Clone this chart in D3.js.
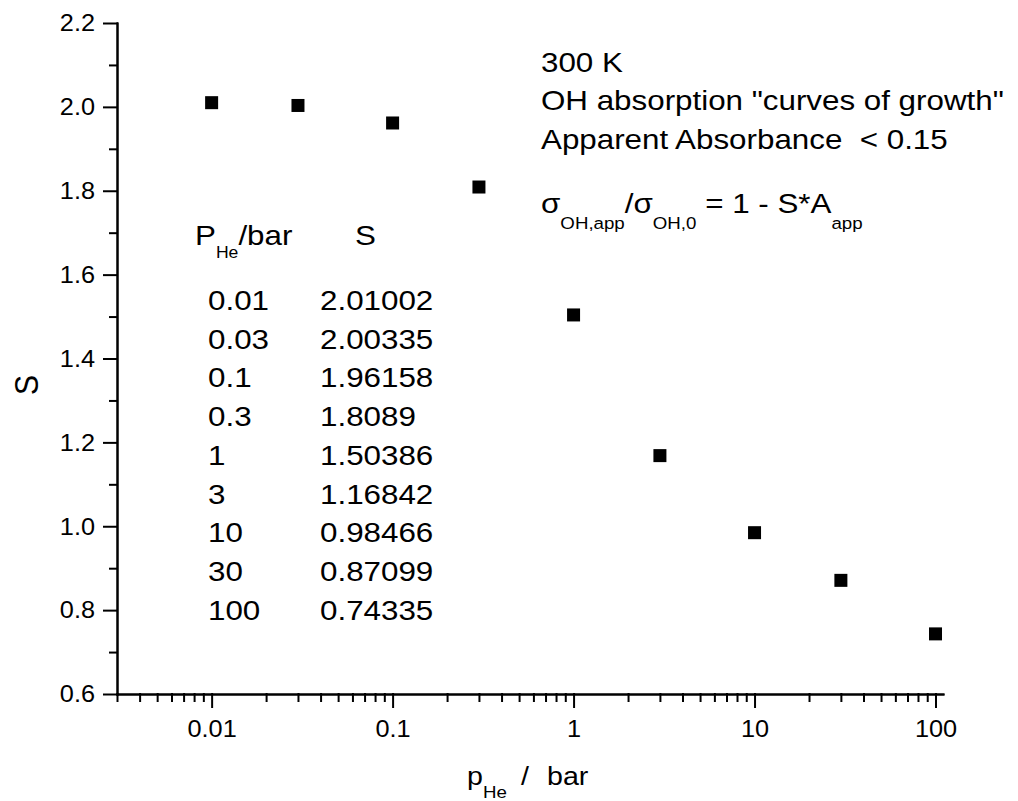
<!DOCTYPE html>
<html>
<head>
<meta charset="utf-8">
<script src="https://cdn.jsdelivr.net/npm/d3@7"></script>
<style>
  body { margin: 0; background: #fff; }
  text { font-family: "Liberation Sans", Arial, sans-serif; fill: #000; white-space: pre; }
  .domain, .tick line { stroke: #000; stroke-width: 2px; stroke-linecap: square; }
</style>
</head>
<body>
<div id="chart"></div>
<script>
// data (the table printed inside it)
var pressures = [0.01, 0.03, 0.1, 0.3, 1, 3, 10, 30, 100];
var sValues = [2.01002, 2.00335, 1.96158, 1.8089, 1.50386, 1.16842, 0.98466, 0.87099, 0.74335];
var xMajorTicks = [0.01, 0.1, 1, 10, 100];
var xTickLabels = ["0.01", "0.1", "1", "10", "100"];
var yMajorTicks = [0.6, 0.8, 1.0, 1.2, 1.4, 1.6, 1.8, 2.0, 2.2];
var yTickLabels = ["0.6", "0.8", "1.0", "1.2", "1.4", "1.6", "1.8", "2.0", "2.2"];
var noteLines = ["300 K", "OH absorption \"curves of growth\"", "Apparent Absorbance  < 0.15"];

var W = 1018, H = 801;
var stretch = 1.1; // the original font is a bit wider than Liberation Sans

var svg = d3.select("#chart")
  .append("svg")
    .attr("width", W)
    .attr("height", H);

var x = d3.scaleLog()
  .domain([0.003, 110])
  .range([117, 943]);

var y = d3.scaleLinear()
  .domain([0.6, 2.2])
  .range([694, 23]);

// minor ticks
var xMinor = [];
[0.001, 0.01, 0.1, 1, 10].forEach(function(dec) {
  for (var k = 2; k <= 9; k++) {
    var v = +(dec * k).toPrecision(3);
    if (v >= 0.003 && v <= 110 && xMajorTicks.indexOf(v) < 0) xMinor.push(v);
  }
});
var yMinor = [0.7, 0.9, 1.1, 1.3, 1.5, 1.7, 1.9, 2.1];

svg.append("g")
  .attr("transform", "translate(0,694)")
  .call(d3.axisBottom(x).tickValues(xMinor).tickSize(7).tickSizeOuter(0).tickFormat(""));

svg.append("g")
  .attr("transform", "translate(117,0)")
  .call(d3.axisLeft(y).tickValues(yMinor).tickSize(7).tickSizeOuter(0).tickFormat(""));

var xAxis = svg.append("g")
  .attr("transform", "translate(0,694)")
  .call(d3.axisBottom(x)
    .tickValues(xMajorTicks)
    .tickSize(13)
    .tickSizeOuter(0)
    .tickPadding(14)
    .tickFormat(function(d, i) { return xTickLabels[i]; }));

var yAxis = svg.append("g")
  .attr("transform", "translate(117,0)")
  .call(d3.axisLeft(y)
    .tickValues(yMajorTicks)
    .tickSize(13)
    .tickSizeOuter(0)
    .tickFormat(function(d, i) { return yTickLabels[i]; }));

xAxis.selectAll("text")
  .attr("font-size", 23)
  .attr("transform", "scale(" + stretch + ",1)");

yAxis.selectAll("text")
  .attr("font-size", 23)
  .attr("x", -22 / stretch)
  .attr("dy", "0.34em")
  .attr("transform", "scale(" + stretch + ",1)");

svg.selectAll("text").attr("font-family", null).attr("fill", null);

// markers
svg.append("g")
  .selectAll("rect")
  .data(pressures)
  .enter()
  .append("rect")
    .attr("x", function(d) { return x(d) - 6.5; })
    .attr("y", function(d, i) { return y(sValues[i]) - 6.5; })
    .attr("width", 13)
    .attr("height", 13)
    .attr("fill", "#000");

function label(px, py, size) {
  return svg.append("text")
    .attr("transform", "translate(" + px + "," + py + ") scale(" + stretch + ",1)")
    .attr("font-size", size);
}

// axis titles
svg.append("text")
  .attr("transform", "translate(38,385) rotate(-90) scale(1," + stretch + ")")
  .attr("text-anchor", "middle")
  .attr("font-size", 30)
  .text("S");

var xt = label(467, 785, 26);
xt.append("tspan").text("p");
xt.append("tspan").attr("font-size", 17).attr("dy", 13).text("He");
label(521, 785, 26).text("/");
label(547, 785, 26).text("bar");

// notes top right
noteLines.forEach(function(t, i) {
  label(541, 72 + i * 38.3, 28.5).text(t);
});

var f = label(541, 213, 28.5);
f.append("tspan").text("σ");
f.append("tspan").attr("font-size", 17).attr("dy", 16).text("OH,app");
f.append("tspan").attr("dy", -16).text("/σ");
f.append("tspan").attr("font-size", 17).attr("dy", 16).text("OH,0");
f.append("tspan").attr("dy", -16).text(" = 1 - S*A");
f.append("tspan").attr("font-size", 17).attr("dy", 16).text("app");

// table inside plot
var hd = label(195, 245, 28.5);
hd.append("tspan").text("P");
hd.append("tspan").attr("font-size", 16).attr("dy", 13).text("He");
hd.append("tspan").attr("dy", -13).text("/bar");
label(355, 245, 28.5).text("S");

pressures.forEach(function(p, i) {
  label(208, 310 + i * 38.7, 28.5).text(String(p));
  label(320, 310 + i * 38.7, 28.5).text(String(sValues[i]));
});
</script>
</body>
</html>
